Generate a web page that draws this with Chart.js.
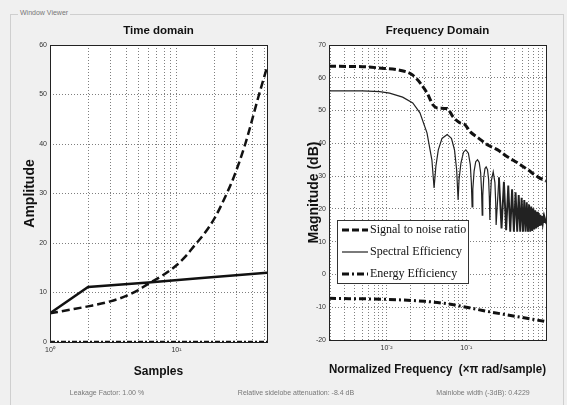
<!DOCTYPE html>
<html>
<head>
<meta charset="utf-8">
<script src="https://cdn.jsdelivr.net/npm/chart.js@4.4.1/dist/chart.umd.min.js"></script>
<style>
  html, body { margin: 0; padding: 0; background: #f0f0f0; }
  body { width: 567px; height: 405px; position: relative; overflow: hidden; font-family: "Liberation Sans", Arial, sans-serif; }
  #frame { position: absolute; left: 10px; top: 14px; width: 552px; height: 400px; border: 1px solid #cfcfcf; }
  #frameLabel { position: absolute; left: 18px; top: 9px; padding: 0 2px; background: #f0f0f0; font-size: 7px; color: #777; }
  canvas { position: absolute; top: 0; }
  #timeCanvas { left: 0; }
  #freqCanvas { left: 290px; }
  .note { position: absolute; top: 389px; font-size: 7px; color: #777; transform: translateX(-50%); white-space: nowrap; }
</style>
</head>
<body>
<div id="frame"></div>
<div id="frameLabel">Window Viewer</div>
<canvas id="timeCanvas" width="290" height="405"></canvas>
<canvas id="freqCanvas" width="277" height="405"></canvas>
<div class="note" style="left:107px">Leakage Factor: 1.00 %</div>
<div class="note" style="left:296px">Relative sidelobe attenuation: -8.4 dB</div>
<div class="note" style="left:483px">Mainlobe width (-3dB): 0.4229</div>
<script>
// ---- time domain ----
const timeSolidX = [1, 2, 6, 15, 52];
const timeSolidY = [5.8, 11.1, 12, 12.9, 14];
const timeDashX = [1, 1.5, 2, 3, 4, 5, 6, 7.5, 10, 12, 14, 16.5, 20, 25, 28.5, 35, 45, 52];
const timeDashY = [5.8, 6.6, 7.2, 8.2, 9.3, 10.5, 11.8, 13.2, 15.5, 17.5, 19.6, 21.8, 25, 30, 33.4, 40, 50, 55.5];
const timeFloorX = [1, 52];
const timeFloorY = [0, 0];
const timeGrid = [1, 2, 3, 4, 5, 6, 7, 8, 9, 10, 20, 30, 40, 50];
const timeMajor = [1, 10];
const timeMajorLabels = ["10\u2070", "10\u00b9"];

// ---- frequency domain ----
const snrF = [0.0019, 0.005, 0.008, 0.0146, 0.0213, 0.0321, 0.0382, 0.043, 0.0575, 0.0684, 0.084, 0.095,
  0.112, 0.142, 0.185, 0.247, 0.33, 0.442, 0.592, 0.792, 0.995];
const snrV = [63.5, 63.4, 63, 62.3, 60.8, 55.4, 51.7, 50.8, 50.6, 48, 46.2, 45.8,
  43.5, 41.6, 39.5, 38, 35.8, 34, 31.9, 29.7, 28.5];

const specF = [0.0019, 0.005, 0.0082, 0.0109, 0.0159, 0.0213, 0.0262, 0.0321, 0.037, 0.0394,
  0.0415, 0.0445, 0.0495, 0.0575, 0.065, 0.071, 0.0755, 0.0788,
  0.081, 0.0855, 0.092, 0.0985, 0.106, 0.112, 0.1155, 0.118,
  0.1205, 0.125, 0.131, 0.138, 0.145, 0.151, 0.155, 0.158,
  0.1605, 0.165, 0.171, 0.177, 0.184, 0.19, 0.194, 0.197,
  0.2, 0.205, 0.217, 0.228, 0.233, 0.236,
  0.256, 0.2758, 0.2955, 0.3152, 0.335, 0.3546, 0.374, 0.394, 0.4137, 0.4334,
  0.453, 0.4728, 0.4925, 0.5122, 0.532, 0.5516, 0.571, 0.591, 0.611, 0.6304,
  0.65, 0.6698, 0.6895, 0.7092, 0.729, 0.7486, 0.768, 0.788, 0.8077, 0.8274,
  0.847, 0.8668, 0.8865, 0.9062, 0.926, 0.9456, 0.9653, 0.985, 0.995];
const specV = [56, 56, 55.8, 55.3, 54.1, 52.3, 49.3, 43.2, 34.9, 26.4,
  33, 38, 41.5, 42.7, 41.5, 38, 32, 22.7,
  29, 34, 37.3, 38, 37, 33.5, 28, 20.6,
  26, 31.5, 34.4, 35, 34.2, 31, 25.5, 18.1,
  24, 29.5, 32.3, 32.8, 32, 29, 23.5, 16.6,
  23, 28.5, 31.3, 28, 22, 15.1,
  29.6, 14, 28.3, 13.5, 27.1, 13, 26.0, 13, 25.1, 13,
  24.2, 13, 23.4, 13, 22.7, 13, 22.0, 13, 21.3, 13,
  20.7, 13.3, 20.2, 13.7, 19.6, 14, 19.1, 14.4, 18.7, 14.8,
  18.2, 15.2, 17.8, 15.6, 17.4, 16, 17.0, 16.2, 16.5];

const energyF = [0.0019, 0.01, 0.03, 0.06, 0.1, 0.16, 0.3, 0.55, 0.995];
const energyV = [-7.3, -7.6, -8.2, -9.0, -10.0, -11.0, -12.2, -13.3, -14.4];

const freqGrid = [0.002, 0.003, 0.004, 0.005, 0.006, 0.007, 0.008, 0.009,
  0.01, 0.02, 0.03, 0.04, 0.05, 0.06, 0.07, 0.08, 0.09,
  0.1, 0.2, 0.3, 0.4, 0.5, 0.6, 0.7, 0.8, 0.9];
const freqMajor = [0.01, 0.1];
const freqMajorLabels = ["10\u207b\u00b2", "10\u207b\u00b9"];

const seriesNames = ["Signal to noise ratio", "Spectral Efficiency", "Energy Efficiency"];

const pts = (xs, ys) => xs.map((x, i) => ({ x: x, y: ys[i] }));

const sans = "'Liberation Sans', Arial, sans-serif";
const tickFont = { family: sans, size: 7 };
const gridOpts = { color: "rgba(0,0,0,0.5)", lineWidth: 1, drawTicks: false };
const borderOpts = { display: false, dash: [1, 2] };

// white plot area, a box round it, and the title centred over the plot area
const plotBox = {
  id: "plotBox",
  beforeDraw(chart) {
    const a = chart.chartArea;
    chart.ctx.save();
    chart.ctx.fillStyle = "#fff";
    chart.ctx.fillRect(a.left, a.top, a.right - a.left, a.bottom - a.top);
    chart.ctx.restore();
  },
  afterDraw(chart, args, opts) {
    const a = chart.chartArea;
    const ctx = chart.ctx;
    ctx.save();
    ctx.strokeStyle = "#222";
    ctx.lineWidth = 1;
    ctx.strokeRect(Math.round(a.left) + 0.5, Math.round(a.top) + 0.5,
      Math.round(a.right - a.left), Math.round(a.bottom - a.top));
    ctx.fillStyle = "#111";
    ctx.font = "bold 11.5px " + sans;
    ctx.textAlign = "center";
    ctx.textBaseline = "middle";
    ctx.fillText(opts.title, (a.left + a.right) / 2, opts.titleY);
    ctx.restore();
  }
};

// legend drawn inside the plot area
const boxLegend = {
  id: "boxLegend",
  afterDatasetsDraw(chart, args, opts) {
    if (!opts.show) return;
    const ctx = chart.ctx;
    const x = chart.chartArea.left + opts.left;
    const y = chart.chartArea.top + opts.top;
    ctx.save();
    ctx.fillStyle = "#fff";
    ctx.fillRect(x, y, opts.width, opts.height);
    ctx.strokeStyle = "#333";
    ctx.lineWidth = 1;
    ctx.strokeRect(x + 0.5, y + 0.5, opts.width, opts.height);
    ctx.font = "12px 'Liberation Serif', serif";
    ctx.textBaseline = "middle";
    chart.data.datasets.forEach((ds, i) => {
      const cy = y + opts.rowTop + i * opts.rowGap;
      ctx.beginPath();
      ctx.setLineDash(ds.borderDash || []);
      ctx.lineWidth = ds.borderWidth;
      ctx.strokeStyle = ds.borderColor;
      ctx.moveTo(x + 5, cy);
      ctx.lineTo(x + 31, cy);
      ctx.stroke();
      ctx.setLineDash([]);
      ctx.fillStyle = "#111";
      ctx.fillText(ds.label, x + 33, cy);
    });
    ctx.restore();
  }
};

function logAxis(min, max, grid, major, labels, height, titleText, titleSize, titlePad) {
  return {
    type: "logarithmic",
    min: min,
    max: max,
    afterBuildTicks: (s) => { s.ticks = grid.map(v => ({ value: v, major: major.includes(v) })); },
    afterFit: (s) => { s.height = height; },
    ticks: {
      autoSkip: false, maxRotation: 0, padding: 4, font: tickFont, color: "#333",
      callback: (v) => { const i = major.indexOf(v); return i >= 0 ? labels[i] : ""; }
    },
    grid: gridOpts,
    border: borderOpts,
    title: {
      display: true, text: titleText, color: "#111",
      font: { family: sans, size: titleSize, weight: "bold" },
      padding: { top: 0, bottom: titlePad }
    }
  };
}

function linAxis(min, max, width, titleText, titlePad) {
  return {
    min: min,
    max: max,
    afterFit: (s) => { s.width = width; },
    ticks: { stepSize: 10, padding: 3, font: tickFont, color: "#333" },
    grid: gridOpts,
    border: borderOpts,
    title: {
      display: true, text: titleText, color: "#111",
      font: { family: sans, size: 14, weight: "bold" },
      padding: { top: titlePad, bottom: 0 }
    }
  };
}

new Chart(document.getElementById("timeCanvas"), {
  type: "line",
  data: {
    datasets: [
      { label: seriesNames[1], data: pts(timeSolidX, timeSolidY), borderColor: "#111", borderWidth: 2.5, tension: 0 },
      { label: seriesNames[0], data: pts(timeDashX, timeDashY), borderColor: "#111", borderWidth: 2.5,
        borderDash: [8, 4], cubicInterpolationMode: "monotone" },
      { label: seriesNames[2], data: pts(timeFloorX, timeFloorY), borderColor: "#111", borderWidth: 2.5,
        borderDash: [5, 2, 2, 2] }
    ]
  },
  options: {
    responsive: false,
    animation: false,
    elements: { point: { radius: 0 } },
    layout: { padding: { left: 0, right: 23, top: 45, bottom: 0 } },
    scales: {
      x: logAxis(1, 52, timeGrid, timeMajor, timeMajorLabels, 63, "Samples", 12, 25.8),
      y: linAxis(0, 60, 50, "Amplitude", 21.6)
    },
    plugins: {
      legend: { display: false },
      tooltip: { enabled: false },
      title: { display: false },
      plotBox: { title: "Time domain", titleY: 31 },
      boxLegend: { show: false }
    }
  },
  plugins: [plotBox, boxLegend]
});

new Chart(document.getElementById("freqCanvas"), {
  type: "line",
  data: {
    datasets: [
      { label: seriesNames[0], data: pts(snrF, snrV), borderColor: "#111", borderWidth: 3,
        borderDash: [7, 3], cubicInterpolationMode: "monotone" },
      { label: seriesNames[1], data: pts(specF, specV), borderColor: "#222", borderWidth: 1.2, tension: 0,
        segment: { borderWidth: (c) => (c.p0.parsed.x > 0.25 ? 1.9 : 1.2) } },
      { label: seriesNames[2], data: pts(energyF, energyV), borderColor: "#111", borderWidth: 3,
        borderDash: [7, 3, 2, 3], cubicInterpolationMode: "monotone" }
    ]
  },
  options: {
    responsive: false,
    animation: false,
    elements: { point: { radius: 0 } },
    layout: { padding: { left: 0, right: 21, top: 45, bottom: 0 } },
    scales: {
      x: logAxis(0.0019, 0.995, freqGrid, freqMajor, freqMajorLabels, 65, "Normalized Frequency  (\u00d7\u03c0 rad/sample)", 12, 27.8),
      y: linAxis(-20, 70, 39, "Magnitude (dB)", 15.6)
    },
    plugins: {
      legend: { display: false },
      tooltip: { enabled: false },
      title: { display: false },
      plotBox: { title: "Frequency Domain", titleY: 31 },
      boxLegend: { show: true, left: 8, top: 175, width: 131, height: 63, rowTop: 10, rowGap: 22 }
    }
  },
  plugins: [plotBox, boxLegend]
});
</script>
</body>
</html>
